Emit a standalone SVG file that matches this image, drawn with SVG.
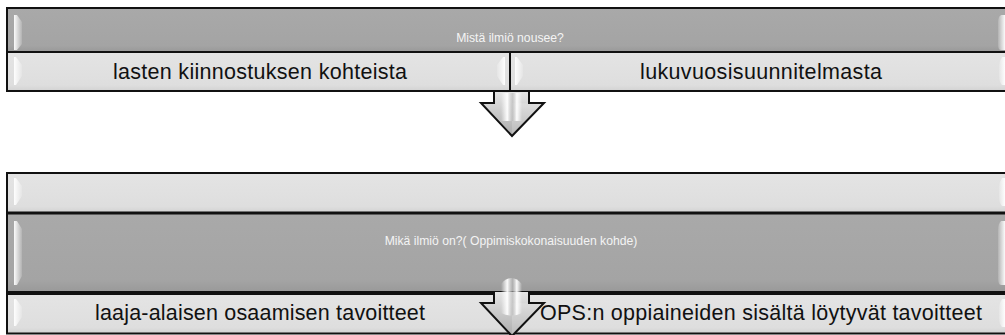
<svg xmlns="http://www.w3.org/2000/svg" width="1005" height="335" viewBox="0 0 1005 335">
  <style>
    .dark { fill: url(#gDark); stroke: #111; stroke-width: 2; }
    .light { fill: url(#gLight); stroke: #111; stroke-width: 2; }
    .glint { fill: url(#gGlint); }
    .glintR { fill: url(#gGlintR); }
    .big { font-family: "Liberation Sans", Arial, sans-serif; font-size: 21.5px; fill: #111; text-anchor: middle; }
    .small { font-family: "Liberation Sans", Arial, sans-serif; font-size: 12.2px; fill: #f4f4f4; text-anchor: middle; }
    .arrowFill { fill: url(#gArrow); }
    .arrowLine { fill: none; stroke: #111; stroke-width: 2; stroke-linejoin: miter; }
  </style>
  <defs>
    <linearGradient id="gDark" x1="0" y1="0" x2="0" y2="1">
      <stop offset="0" stop-color="#a9a9a9"/>
      <stop offset="0.85" stop-color="#a4a4a4"/>
      <stop offset="1" stop-color="#999"/>
    </linearGradient>
    <linearGradient id="gLight" x1="0" y1="0" x2="0" y2="1">
      <stop offset="0" stop-color="#e4e4e4"/>
      <stop offset="0.85" stop-color="#dedede"/>
      <stop offset="1" stop-color="#d2d2d2"/>
    </linearGradient>
    <linearGradient id="gGlint" x1="0" y1="0" x2="1" y2="0">
      <stop offset="0" stop-color="#fff" stop-opacity="0.95"/>
      <stop offset="1" stop-color="#fff" stop-opacity="0.15"/>
    </linearGradient>
    <linearGradient id="gGlintR" x1="1" y1="0" x2="0" y2="0">
      <stop offset="0" stop-color="#fff" stop-opacity="0.95"/>
      <stop offset="1" stop-color="#fff" stop-opacity="0.15"/>
    </linearGradient>
    <linearGradient id="gArrow" x1="0" y1="0" x2="0" y2="1">
      <stop offset="0" stop-color="#e6e6e6"/>
      <stop offset="0.5" stop-color="#c8c8c8"/>
      <stop offset="1" stop-color="#ababab"/>
    </linearGradient>
    <linearGradient id="gShine" x1="0" y1="0" x2="1" y2="0">
      <stop offset="0" stop-color="#fff" stop-opacity="0"/>
      <stop offset="0.3" stop-color="#fff" stop-opacity="0.95"/>
      <stop offset="0.55" stop-color="#bbb" stop-opacity="0.6"/>
      <stop offset="0.75" stop-color="#fff" stop-opacity="0.95"/>
      <stop offset="1" stop-color="#fff" stop-opacity="0"/>
    </linearGradient>
    <!-- block arrow, stem top at y=0, outline left open across the stem top -->
    <g id="downArrow">
      <polygon class="arrowFill" points="494,0 529,0 529,11 544,11 512,44 481,11 494,11"/>
      <polygon points="512,11 542,12 512,42" fill="#fff" opacity="0.18"/>
      <polyline class="arrowLine" points="494,-1 494,11 481,11 512,44 544,11 529,11 529,-1"/>
    </g>
  </defs>

  <!-- upper block: where the phenomenon arises -->
  <g id="source-header">
    <rect class="dark" x="7" y="8" width="1010" height="44"/>
    <polygon class="glint" points="14,15 17,15 22,22 22,44 17,50 14,50"/>
    <path class="glintR" d="M1005,15 L1001,15 Q998,17 998,22 L998,45 Q998,50 1001,50 L1005,50 Z"/>
    <text class="small" x="510" y="42">Mistä ilmiö nousee?</text>
  </g>
  <g id="source-children">
    <rect class="light" x="7" y="52" width="503" height="39"/>
    <rect class="light" x="510" y="52" width="507" height="39"/>
    <polygon class="glint" points="14,57 16,57 22,65 22,76 16,85 14,85"/>
    <polygon class="glintR" points="505,57 503,57 497,65 497,76 503,85 505,85"/>
    <polygon class="glint" points="515,57 517,57 523,65 523,76 517,85 515,85"/>
    <path class="glintR" d="M1005,57 L1002,57 Q999,61 999,66 L999,76 Q999,82 1002,85 L1005,85 Z"/>
    <text class="big" x="260" y="79" textLength="294">lasten kiinnostuksen kohteista</text>
    <text class="big" x="761" y="79" textLength="242">lukuvuosisuunnitelmasta</text>
  </g>

  <!-- lower block: what the phenomenon is -->
  <g id="target-top">
    <rect class="light" x="7" y="173" width="1010" height="39.5"/>
    <polygon class="glint" points="14,178 16,178 22,186 22,196 16,205 14,205"/>
    <path class="glintR" d="M1005,178 L1002,178 Q999,182 999,187 L999,197 Q999,203 1002,206 L1005,206 Z"/>
  </g>
  <g id="target-main">
    <rect class="dark" x="7" y="213.5" width="1010" height="78.5"/>
    <polygon class="glint" points="14,221 17,221 22,229 22,276 17,285 14,285"/>
    <path class="glintR" d="M1005,221 L1001,221 Q998,224 998,230 L998,278 Q998,285 1001,285 L1005,285 Z"/>
    <text class="small" x="511" y="245">Mikä ilmiö on?( Oppimiskokonaisuuden kohde)</text>
  </g>
  <g id="target-children">
    <rect class="light" x="7" y="294" width="503" height="39.5"/>
    <rect class="light" x="510" y="294" width="507" height="39.5"/>
    <polygon class="glint" points="14,299 16,299 22,307 22,317 16,326 14,326"/>
    <path class="glintR" d="M1005,299 L1002,299 Q999,303 999,308 L999,318 Q999,324 1002,327 L1005,327 Z"/>
    <text class="big" x="260" y="320" textLength="330">laaja-alaisen osaamisen tavoitteet</text>
    <text class="big" x="761" y="320" textLength="442">OPS:n oppiaineiden sisältä löytyvät tavoitteet</text>
  </g>

  <!-- connectors -->
  <g id="connectors">
    <g id="arrow-source-target">
      <use href="#downArrow" transform="translate(0,92)"/>
      <rect x="501" y="93" width="21" height="28" fill="url(#gShine)"/>
    </g>
    <g id="arrow-target-children">
      <use href="#downArrow" transform="translate(0,292)"/>
      <path d="M501,284 Q511.5,272 522,284 L522,313 Q511.5,318 501,313 Z" fill="url(#gShine)"/>
    </g>
  </g>
</svg>
